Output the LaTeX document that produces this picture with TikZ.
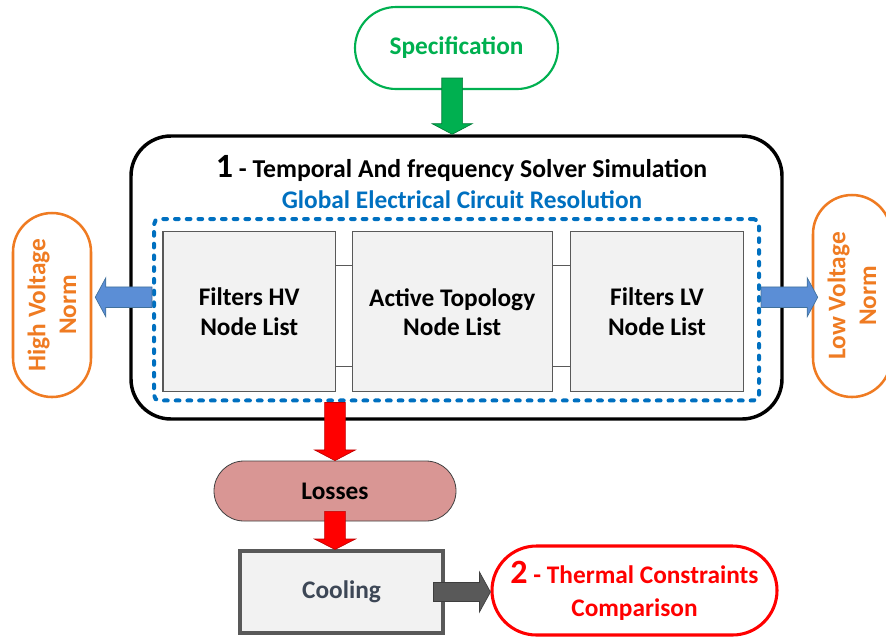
\documentclass[tikz,border=0pt]{standalone}
\usepackage{fontspec}
\setmainfont{Carlito}
\usetikzlibrary{shapes.misc,calc}

\definecolor{specgreen}{HTML}{00B050}
\definecolor{normorange}{HTML}{EF7B22}
\definecolor{titleblue}{HTML}{0070C0}
\definecolor{flowblue}{HTML}{5B8ED6}
\definecolor{flowblueedge}{HTML}{41719C}
\definecolor{boxgray}{HTML}{F2F2F2}
\definecolor{edgegray}{HTML}{595959}
\definecolor{lossfill}{HTML}{D99694}
\definecolor{coolink}{HTML}{3D4756}

% block arrow pointing down: style, start point, tip, shaft half width, head half width, head length
\newcommand\blockdown[6]{%
  \filldraw[#1] let \p1=(#2), \p2=(#3) in
    (\x2-#4,\y1) -- (\x2-#4,\y2+#6) -- (\x2-#5,\y2+#6) -- (\x2,\y2)
    -- (\x2+#5,\y2+#6) -- (\x2+#4,\y2+#6) -- (\x2+#4,\y1) -- cycle;}
% block arrow pointing left
\newcommand\blockleft[6]{%
  \filldraw[#1] let \p1=(#2), \p2=(#3) in
    (\x1,\y2+#4) -- (\x2+#6,\y2+#4) -- (\x2+#6,\y2+#5) -- (\x2,\y2)
    -- (\x2+#6,\y2-#5) -- (\x2+#6,\y2-#4) -- (\x1,\y2-#4) -- cycle;}
% block arrow pointing right
\newcommand\blockright[6]{%
  \filldraw[#1] let \p1=(#2), \p2=(#3) in
    (\x1,\y2+#4) -- (\x2-#6,\y2+#4) -- (\x2-#6,\y2+#5) -- (\x2,\y2)
    -- (\x2-#6,\y2-#5) -- (\x2-#6,\y2-#4) -- (\x1,\y2-#4) -- cycle;}

\begin{document}
\begin{tikzpicture}[x=0.75pt,y=-0.75pt,
  txt/.style={font=\fontsize{19}{22}\selectfont\bfseries, align=center},
  pill/.style={rounded rectangle, txt, inner sep=0pt},
  listbox/.style={rectangle, txt, draw=edgegray, line width=0.8pt, fill=boxgray,
    minimum height=120pt, inner sep=0pt},
  greenflow/.style={fill=specgreen, draw=specgreen!70!black, line width=0.5pt},
  redflow/.style={fill=red, draw=red!75!black, line width=0.5pt},
  blueflow/.style={fill=flowblue, draw=flowblueedge, line width=0.5pt},
  grayflow/.style={fill=edgegray, draw=edgegray!70!black, line width=0.5pt},
  link/.style={draw=edgegray, line width=0.8pt},
]
\useasboundingbox (0,0) rectangle (886,637);

% input specification
\node[pill, draw=specgreen, line width=1.6pt, text=specgreen,
      minimum width=152.25pt, minimum height=61.5pt] (spec) at (456.5,48) {Specification};

% solver block
\node[draw=black, line width=2.6pt, rounded corners=30pt,
      minimum width=488.25pt, minimum height=212.25pt] (big) at (456.5,277.5) {};
\node[txt, font=\fontsize{19.3}{22}\selectfont\bfseries, anchor=base] (title) at (461.5,177)
  {{\fontsize{25.5}{25}\selectfont 1} - Temporal And frequency Solver Simulation};
\node[txt, text=titleblue, anchor=base] (glob) at (462,208) {Global Electrical Circuit Resolution};
\node[draw=titleblue, line width=3pt, dash pattern=on 2.8pt off 6pt, line cap=round,
      rounded corners=4pt, minimum width=453.75pt, minimum height=136.1pt] (dotbox) at (456.5,309.75) {};

% node lists
\node[listbox, minimum width=129.4pt] (hvlist) at (249.25,311.85) {Filters HV\\Node List};
\node[listbox, minimum width=150pt] (toplist) at (452.2,311.85) {Active Topology\\Node List};
\node[listbox, minimum width=129.5pt] (lvlist) at (657,311.85) {Filters LV\\Node List};
\draw[link] ($(hvlist.east)+(0,-46)$) -- ($(toplist.west)+(0,-46)$);
\draw[link] ($(hvlist.east)+(0,55)$) -- ($(toplist.west)+(0,55)$);
\draw[link] ($(toplist.east)+(0,-46)$) -- ($(lvlist.west)+(0,-46)$);
\draw[link] ($(toplist.east)+(0,55)$) -- ($(lvlist.west)+(0,55)$);

% norms
\node[pill, rotate=90, draw=normorange, line width=1.9pt, text=normorange,
      font=\fontsize{19}{23}\selectfont\bfseries,
      minimum width=138pt, minimum height=58.5pt] (hv) at (52,305) {High Voltage\\Norm};
\node[pill, rotate=90, draw=normorange, line width=1.9pt, text=normorange,
      font=\fontsize{19}{23}\selectfont\bfseries,
      minimum width=151.5pt, minimum height=58.5pt] (lv) at (852,296) {Low Voltage\\Norm};

% thermal chain
\node[pill, draw=black!75, line width=0.6pt, fill=lossfill,
      minimum width=181.5pt, minimum height=45pt] (loss) at (335,491) {Losses};
\node[rectangle, txt, draw=edgegray, line width=2.3pt, fill=boxgray, text=coolink,
      minimum width=152.25pt, minimum height=61.5pt] (cool) at (341.5,592) {Cooling};
\node[pill, draw=red, line width=2.3pt, text=red,
      font=\fontsize{19}{25}\selectfont\bfseries, text depth=2pt,
      minimum width=213.75pt, minimum height=66.75pt] (therm) at (634.5,590.5)
  {{\fontsize{25.5}{25}\selectfont 2} - Thermal Constraints\\Comparison};

% flow arrows
\coordinate (gA) at ($(spec.south)+(-4.3,-12)$);
\coordinate (gB) at (gA |- big.north);
\blockdown{greenflow}{gA}{gB}{7.8pt}{15pt}{7.9pt}

\coordinate (r1A) at (loss.north |- dotbox.south);
\blockdown{redflow}{r1A}{loss.north}{7.8pt}{15.3pt}{8pt}

\coordinate (r2A) at ($(loss.south)+(0,-10)$);
\coordinate (r2B) at (loss.south |- cool.north);
\blockdown{redflow}{r2A}{r2B}{7.8pt}{15.3pt}{7.8pt}

\coordinate (kA) at ($(cool.east)+(-11,0)$);
\coordinate (kB) at (cool.east -| therm.west);
\blockright{grayflow}{kA}{kB}{7.1pt}{15pt}{8.25pt}

\coordinate (bA) at ($(dotbox.west)+(0,-12.5)$);
\coordinate (bB) at ($(bA -| hv.south)+(3,0)$);
\blockleft{blueflow}{bA}{bB}{7.7pt}{14.6pt}{7.9pt}

\coordinate (cA) at ($(dotbox.east)+(0,-12.5)$);
\coordinate (cB) at ($(cA -| lv.north)+(6,0)$);
\blockright{blueflow}{cA}{cB}{7.7pt}{14.6pt}{7.9pt}
\end{tikzpicture}
\end{document}
